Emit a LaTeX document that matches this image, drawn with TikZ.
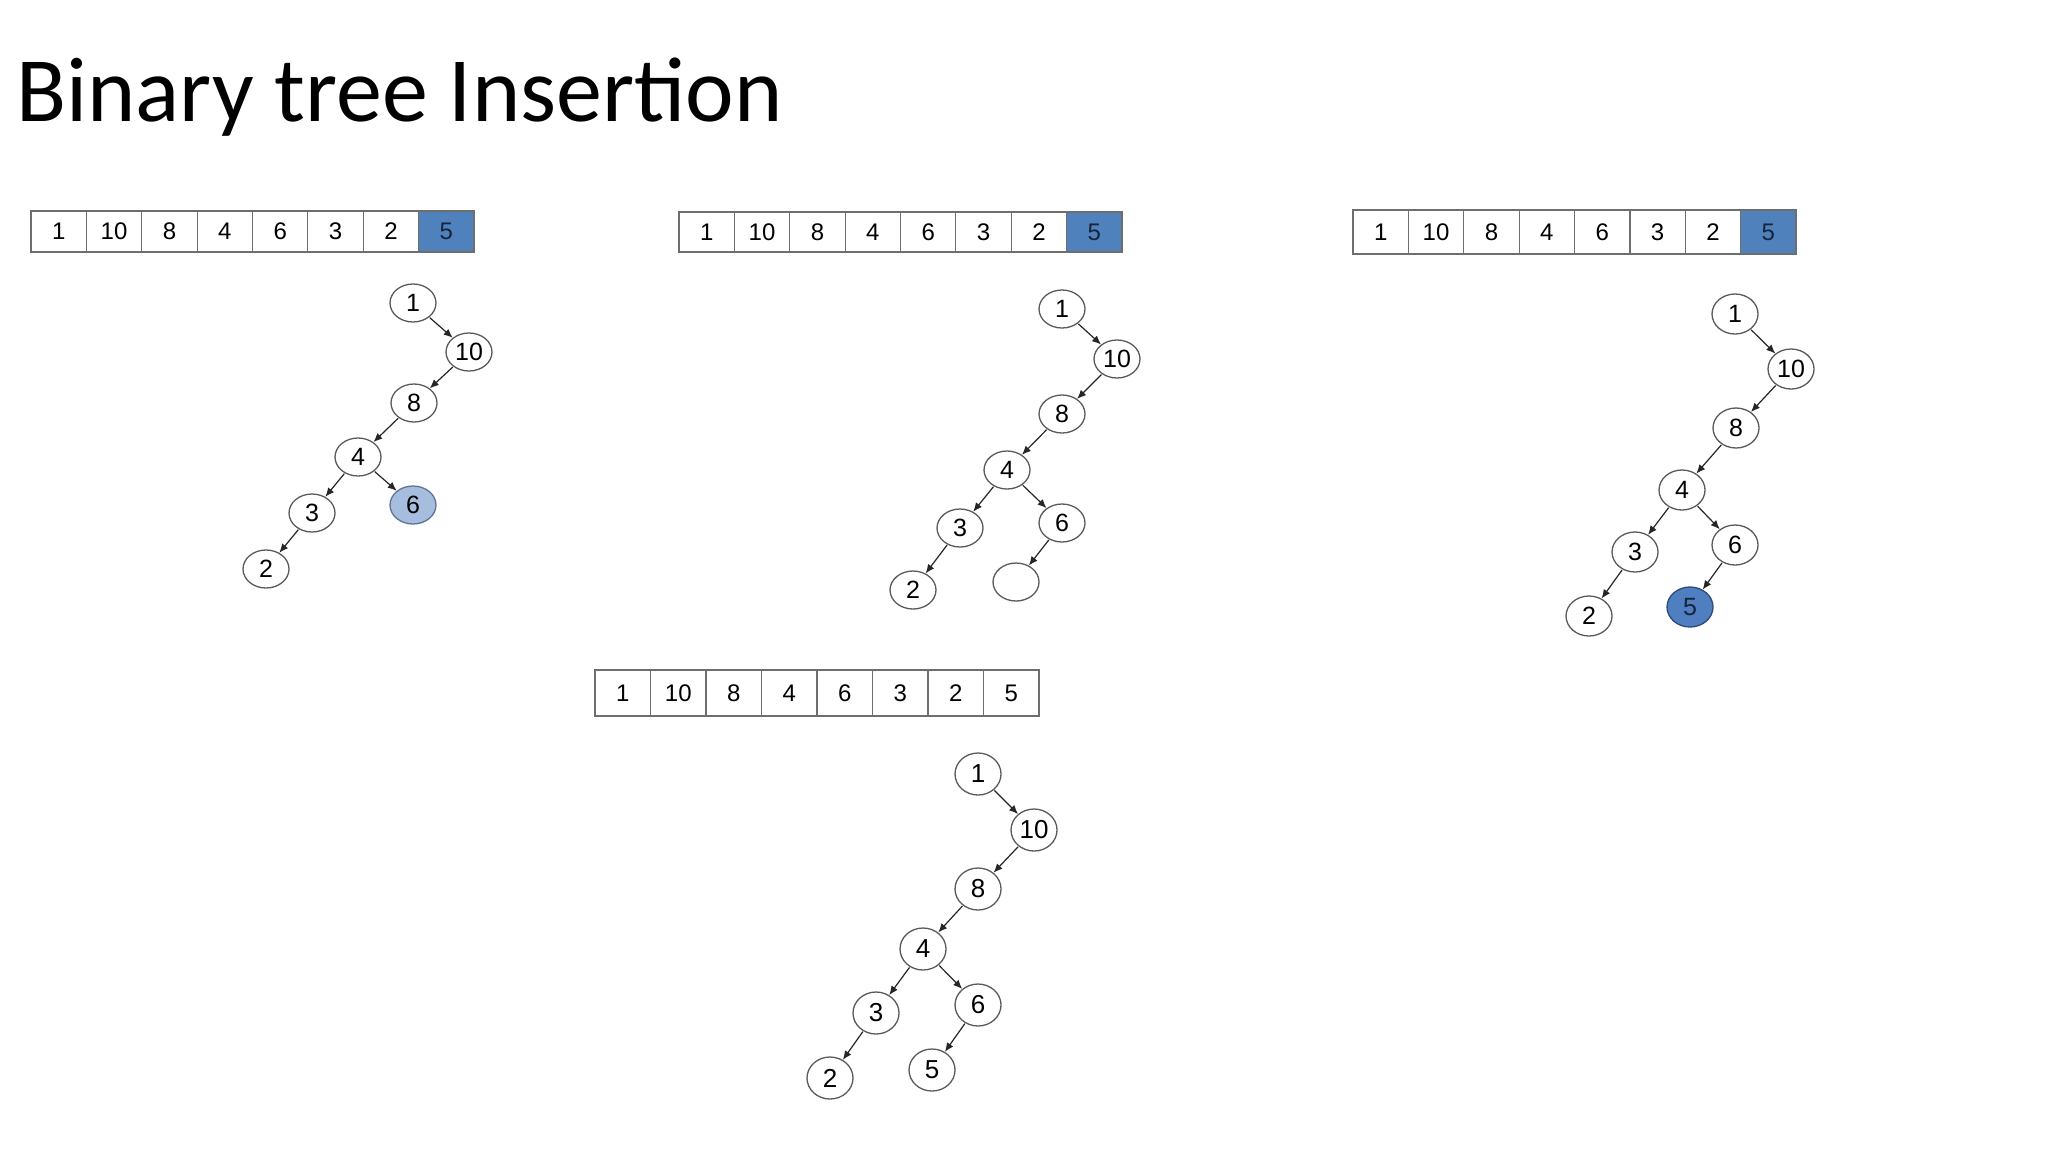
\documentclass[tikz,border=0pt]{standalone}
\usepackage{fontspec}
\setmainfont{Liberation Sans}
\newfontfamily\titlefont{Carlito}
\usetikzlibrary{arrows.meta,shapes.geometric}
\definecolor{cellblue}{HTML}{4F81BD}
\definecolor{cellborder}{HTML}{6E6E6E}
\definecolor{navytext}{HTML}{17233A}
\definecolor{lightnode}{HTML}{A6BDDE}
\definecolor{lightnodeborder}{HTML}{5E7398}
\definecolor{darknode}{HTML}{4F7EC1}
\definecolor{darknodeborder}{HTML}{2E4A78}
\definecolor{nodegray}{HTML}{5A5A5A}
\newcommand\drawarray[6]{%
  \pgfmathsetmacro\cw{(#4-#2)/8}%
  \pgfmathsetmacro\ch{#5-#3}%
  \pgfmathsetmacro\cy{(#3+#5)/2}%
  \foreach \v [count=\i] in {1,10,8,4,6,3,2} {
    \node[cell, minimum width=\cw*0.5pt, minimum height=\ch*0.5pt] (#1c\i) at ({#2+(\i-0.5)*\cw},\cy) {\v};
  }
  \node[#6, minimum width=\cw*0.5pt, minimum height=\ch*0.5pt] (#1c8) at ({#2+7.5*\cw},\cy) {5};
}
\begin{document}
\begin{tikzpicture}[x=0.5pt,y=-0.5pt,
  cell/.style={rectangle, draw=cellborder, line width=0.6pt, fill=white, inner sep=0pt, outer sep=0pt, font=\fontsize{12}{12}\selectfont},
  cellhl/.style={cell, fill=cellblue, text=navytext},
  tn/.style={ellipse, draw=nodegray, line width=0.65pt, fill=white, inner sep=0pt, minimum width=23pt, minimum height=19pt, font=\fontsize{12.5}{12.5}\selectfont},
  tnlight/.style={tn, fill=lightnode, draw=lightnodeborder},
  tndark/.style={tn, fill=darknode, draw=darknodeborder, text=navytext},
  link/.style={-{Latex[length=4.5pt,width=3.8pt]}, line width=0.6pt, draw=black!85, shorten <=0.3pt}
]
\useasboundingbox (0,0) rectangle (2048,1152);
\fill[white] (0,0) rectangle (2048,1152);

% title
\node[anchor=base west, inner sep=0pt, font=\titlefont\fontsize{46}{50}\selectfont] (title) at (16,121) {Binary tree Insertion};

% arrays
\drawarray{pa}{31}{211}{474}{252}{cellhl}
\drawarray{pb}{679}{212}{1122}{252}{cellhl}
\drawarray{pc}{1353}{210}{1796}{254}{cellhl}
\drawarray{pd}{595}{670}{1039}{716}{cell}

% tree 1
\node[tn] (a1) at (413,303) {1};
\node[tn] (a10) at (469,352) {10};
\node[tn] (a8) at (414,403) {8};
\node[tn] (a4) at (358,457) {4};
\node[tn] (a3) at (312,513) {3};
\node[tnlight] (a6) at (413,505) {6};
\node[tn] (a2) at (266,569) {2};
\draw[link] (a1) -- (a10);
\draw[link] (a10) -- (a8);
\draw[link] (a8) -- (a4);
\draw[link] (a4) -- (a3);
\draw[link] (a4) -- (a6);
\draw[link] (a3) -- (a2);

% tree 2
\node[tn] (b1) at (1062,309) {1};
\node[tn] (b10) at (1117,359) {10};
\node[tn] (b8) at (1062,414) {8};
\node[tn] (b4) at (1007,470) {4};
\node[tn] (b3) at (960,528) {3};
\node[tn] (b6) at (1062,523) {6};
\node[tn] (b2) at (913,590) {2};
\node[tn] (b5) at (1016,582) {};
\draw[link] (b1) -- (b10);
\draw[link] (b10) -- (b8);
\draw[link] (b8) -- (b4);
\draw[link] (b4) -- (b3);
\draw[link] (b4) -- (b6);
\draw[link] (b3) -- (b2);
\draw[link] (b6) -- (b5);

% tree 3
\begin{scope}[tn/.append style={minimum height=20pt}]
\node[tn] (c1) at (1735,314) {1};
\node[tn] (c10) at (1791,369) {10};
\node[tn] (c8) at (1736,428) {8};
\node[tn] (c4) at (1682,490) {4};
\node[tn] (c3) at (1635,552) {3};
\node[tn] (c6) at (1735,545) {6};
\node[tn] (c2) at (1589,616) {2};
\node[tndark] (c5) at (1690,607) {5};
\end{scope}
\draw[link] (c1) -- (c10);
\draw[link] (c10) -- (c8);
\draw[link] (c8) -- (c4);
\draw[link] (c4) -- (c3);
\draw[link] (c4) -- (c6);
\draw[link] (c3) -- (c2);
\draw[link] (c6) -- (c5);

% tree 4
\begin{scope}[tn/.append style={minimum height=21pt, font=\fontsize{13}{13}\selectfont}]
\node[tn] (d1) at (978,774) {1};
\node[tn] (d10) at (1034,830) {10};
\node[tn] (d8) at (978,889) {8};
\node[tn] (d4) at (923,949) {4};
\node[tn] (d3) at (876,1013) {3};
\node[tn] (d6) at (978,1005) {6};
\node[tn] (d2) at (830,1078) {2};
\node[tn] (d5) at (932,1070) {5};
\end{scope}
\draw[link] (d1) -- (d10);
\draw[link] (d10) -- (d8);
\draw[link] (d8) -- (d4);
\draw[link] (d4) -- (d3);
\draw[link] (d4) -- (d6);
\draw[link] (d3) -- (d2);
\draw[link] (d6) -- (d5);
\end{tikzpicture}
\end{document}
